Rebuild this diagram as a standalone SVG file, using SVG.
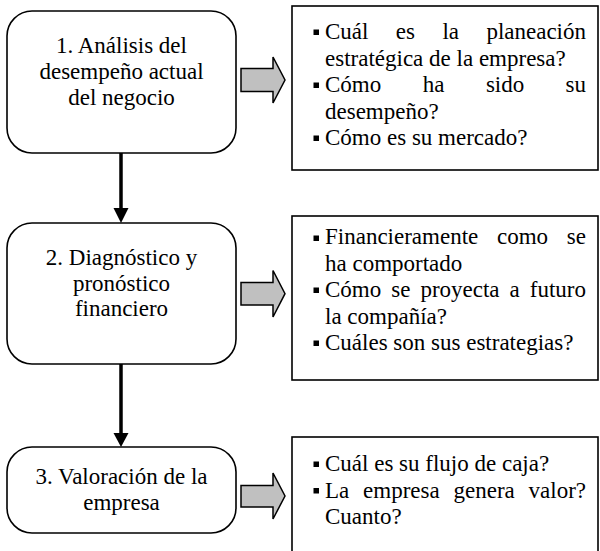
<svg xmlns="http://www.w3.org/2000/svg" width="600" height="551" viewBox="0 0 600 551">
<style>
.step{fill:#fff;stroke:#000;stroke-width:1.6}
.info{fill:#fff;stroke:#000;stroke-width:1.6}
.t{font-family:'Liberation Serif','Times New Roman',Times,serif;font-size:23px;fill:#000}
.c{text-anchor:middle}
.e{text-anchor:end}
.blk{fill:#c0c0c0;stroke:#000;stroke-width:1.5;stroke-linejoin:miter}
.ln{stroke:#000;stroke-width:3.5;fill:none}
.hd{fill:#000}
.b{fill:#000}
</style>
<rect width="600" height="551" fill="#fff"/>
<g id="step1">
<rect class="step" x="7" y="11" width="229" height="142" rx="25"/>
<text class="t c" x="121.5" y="53">1. Análisis del</text>
<text class="t c" x="121.5" y="79">desempeño actual</text>
<text class="t c" x="121.5" y="105">del negocio</text>
</g>
<g id="step2">
<rect class="step" x="7" y="223" width="229" height="141" rx="25"/>
<text class="t c" x="121.5" y="265">2. Diagnóstico y</text>
<text class="t c" x="121.5" y="290.5">pronóstico</text>
<text class="t c" x="121.5" y="316">financiero</text>
</g>
<g id="step3">
<rect class="step" x="7" y="447" width="229" height="86" rx="25"/>
<text class="t c" x="121.5" y="484">3. Valoración de la</text>
<text class="t c" x="121.5" y="510">empresa</text>
</g>
<g id="info1">
<rect class="info" x="292" y="6" width="306" height="164"/>
<rect class="b" x="313.5" y="29.5" width="5.5" height="5.5"/>
<text class="t" y="39"><tspan x="325">Cuál</tspan><tspan x="395.8">es</tspan><tspan x="442.4">la</tspan></text>
<text class="t e" x="586" y="39">planeación</text>
<text class="t" x="325" y="65.5">estratégica de la empresa?</text>
<rect class="b" x="313.5" y="82.5" width="5.5" height="5.5"/>
<text class="t" y="92"><tspan x="325">Cómo</tspan><tspan x="422.7">ha</tspan><tspan x="485.9">sido</tspan></text>
<text class="t e" x="586" y="92">su</text>
<text class="t" x="325" y="118.5">desempeño?</text>
<rect class="b" x="313.5" y="135.5" width="5.5" height="5.5"/>
<text class="t" x="325" y="145">Cómo es su mercado?</text>
</g>
<g id="info2">
<rect class="info" x="292" y="216" width="306" height="164"/>
<rect class="b" x="313.5" y="235.5" width="5.5" height="5.5"/>
<text class="t" y="244"><tspan x="325">Financieramente</tspan><tspan x="497">como</tspan></text>
<text class="t e" x="586" y="244">se</text>
<text class="t" x="325" y="270.5">ha comportado</text>
<rect class="b" x="313.5" y="287.5" width="5.5" height="5.5"/>
<text class="t" y="297"><tspan x="325">Cómo</tspan><tspan x="391.2">se</tspan><tspan x="420.4">proyecta</tspan><tspan x="509.6">a</tspan></text>
<text class="t e" x="586" y="297">futuro</text>
<text class="t" x="325" y="323.5">la compañía?</text>
<rect class="b" x="313.5" y="340.5" width="5.5" height="5.5"/>
<text class="t" x="325" y="350">Cuáles son sus estrategias?</text>
</g>
<g id="info3">
<rect class="info" x="292" y="437" width="306" height="140"/>
<rect class="b" x="313.5" y="461.5" width="5.5" height="5.5"/>
<text class="t" x="325" y="471">Cuál es su flujo de caja?</text>
<rect class="b" x="313.5" y="488" width="5.5" height="5.5"/>
<text class="t" y="497.5"><tspan x="325">La</tspan><tspan x="363.1">empresa</tspan><tspan x="453.5">genera</tspan></text>
<text class="t e" x="586" y="497.5">valor?</text>
<text class="t" x="325" y="524">Cuanto?</text>
</g>
<g id="connectors">
<line class="ln" x1="121" y1="153" x2="121" y2="210"/>
<polygon class="hd" points="113.5,208 128.5,208 121,223"/>
<line class="ln" x1="121" y1="364" x2="121" y2="435"/>
<polygon class="hd" points="113.5,433 128.5,433 121,447"/>
<polygon class="blk" points="241,68.5 273,68.5 273,57 285,80 273,103 273,91.5 241,91.5"/>
<polygon class="blk" points="241,282.5 273,282.5 273,270.5 285,293.7 273,317 273,305 241,305"/>
<polygon class="blk" points="241,485.5 273,485.5 273,473 285,496 273,519 273,507 241,507"/>
</g>
</svg>
